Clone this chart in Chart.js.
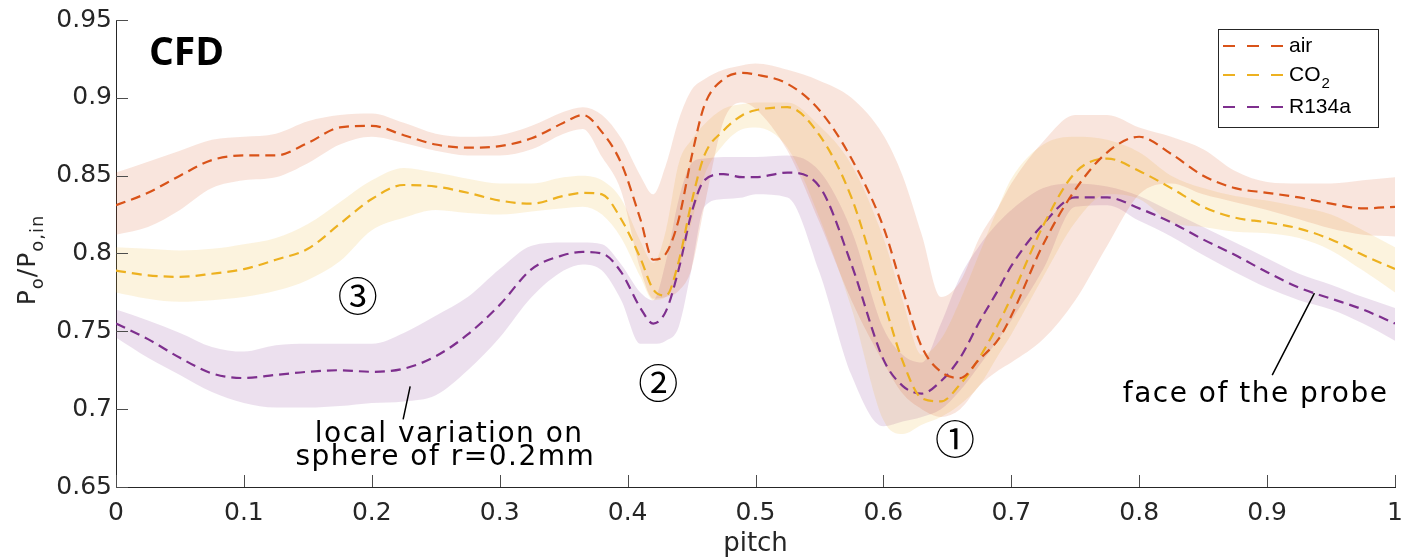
<!DOCTYPE html>
<html>
<head>
<meta charset="utf-8">
<script src="https://cdn.jsdelivr.net/npm/chart.js@4.4.1/dist/chart.umd.min.js"></script>
<style>
  html, body { margin: 0; padding: 0; background: #fff; }
  canvas { display: block; }
</style>
</head>
<body>
<canvas id="cfdChart" width="1401" height="560"></canvas>
<script>
// pitch positions shared by all series
const pitch = [0, 0.025, 0.05, 0.075, 0.1, 0.125, 0.15, 0.175, 0.2, 0.225, 0.25, 0.275, 0.3, 0.325, 0.35,
  0.365, 0.38, 0.395, 0.41, 0.42, 0.43, 0.44, 0.45, 0.46, 0.475, 0.49, 0.5,
  0.525, 0.55, 0.575, 0.6,
  0.615, 0.63, 0.645, 0.66, 0.675, 0.69, 0.7,
  0.725, 0.75, 0.775, 0.8, 0.825, 0.85, 0.875, 0.9, 0.925, 0.95, 0.975, 1];

// air
const airMean = [0.831, 0.839, 0.850, 0.860, 0.863, 0.863, 0.871, 0.881, 0.882, 0.876, 0.870, 0.868, 0.869, 0.874, 0.884,
  0.889, 0.878, 0.858, 0.822, 0.796, 0.800, 0.822, 0.862, 0.895, 0.912, 0.916, 0.915,
  0.909, 0.892, 0.861, 0.817,
  0.777, 0.740, 0.724, 0.720, 0.732, 0.745, 0.760,
  0.806, 0.841, 0.865, 0.875, 0.864, 0.850, 0.842, 0.839, 0.836, 0.832, 0.829, 0.830];
const airUpper = [0.852, 0.859, 0.866, 0.873, 0.875, 0.877, 0.885, 0.889, 0.890, 0.884, 0.877, 0.875, 0.876, 0.882, 0.891,
  0.894, 0.889, 0.874, 0.850, 0.838, 0.857, 0.886, 0.905, 0.912, 0.918, 0.921, 0.922,
  0.918, 0.911, 0.900, 0.876,
  0.850, 0.812, 0.772, 0.782, 0.810, 0.830, 0.845,
  0.872, 0.889, 0.889, 0.881, 0.875, 0.867, 0.853, 0.846, 0.845, 0.845, 0.847, 0.849];
const airLower = [0.812, 0.817, 0.828, 0.842, 0.847, 0.849, 0.858, 0.870, 0.875, 0.871, 0.866, 0.863, 0.863, 0.867, 0.877,
  0.880, 0.862, 0.840, 0.790, 0.771, 0.772, 0.776, 0.790, 0.830, 0.885, 0.897, 0.893,
  0.866, 0.820, 0.770, 0.730,
  0.710, 0.700, 0.695, 0.700, 0.715, 0.725, 0.730,
  0.745, 0.770, 0.805, 0.838, 0.845, 0.838, 0.833, 0.828, 0.822, 0.816, 0.812, 0.811];

// CO2
const co2Mean = [0.789, 0.786, 0.785, 0.787, 0.790, 0.796, 0.803, 0.819, 0.835, 0.844, 0.843, 0.839, 0.834, 0.832, 0.837,
  0.839, 0.838, 0.822, 0.797, 0.777, 0.773, 0.795, 0.833, 0.863, 0.879, 0.889, 0.892,
  0.894, 0.876, 0.836, 0.770,
  0.731, 0.707, 0.705, 0.716, 0.733, 0.755, 0.772,
  0.818, 0.852, 0.861, 0.853, 0.842, 0.830, 0.823, 0.820, 0.816, 0.809, 0.799, 0.790];
const co2Upper = [0.804, 0.803, 0.802, 0.803, 0.806, 0.810, 0.819, 0.833, 0.847, 0.855, 0.852, 0.848, 0.845, 0.845, 0.849,
  0.850, 0.847, 0.835, 0.808, 0.794, 0.815, 0.858, 0.873, 0.883, 0.893, 0.896, 0.897,
  0.897, 0.882, 0.857, 0.810,
  0.770, 0.735, 0.745, 0.770, 0.800, 0.830, 0.848,
  0.870, 0.875, 0.873, 0.865, 0.850, 0.842, 0.837, 0.834, 0.830, 0.825, 0.815, 0.804];
const co2Lower = [0.775, 0.771, 0.769, 0.770, 0.772, 0.776, 0.783, 0.795, 0.815, 0.823, 0.828, 0.826, 0.825, 0.827, 0.829,
  0.830, 0.825, 0.810, 0.785, 0.770, 0.772, 0.790, 0.820, 0.850, 0.870, 0.880, 0.881,
  0.868, 0.823, 0.765, 0.693,
  0.684, 0.690, 0.695, 0.703, 0.715, 0.735, 0.748,
  0.785, 0.820, 0.838, 0.835, 0.820, 0.817, 0.814, 0.813, 0.810, 0.802, 0.789, 0.775];

// R134a
const r134aMean = [0.755, 0.745, 0.733, 0.723, 0.720, 0.722, 0.724, 0.725, 0.724, 0.726, 0.734, 0.748, 0.767, 0.790, 0.799,
  0.801, 0.800, 0.788, 0.765, 0.755, 0.763, 0.790, 0.826, 0.847, 0.851, 0.849, 0.849,
  0.852, 0.843, 0.793, 0.732,
  0.715, 0.710, 0.718, 0.733, 0.756, 0.777, 0.792,
  0.819, 0.836, 0.836, 0.829, 0.820, 0.809, 0.799, 0.788, 0.778, 0.771, 0.764, 0.755];
const r134aUpper = [0.764, 0.757, 0.749, 0.740, 0.737, 0.741, 0.742, 0.742, 0.742, 0.749, 0.760, 0.772, 0.790, 0.805, 0.807,
  0.807, 0.806, 0.793, 0.775, 0.770, 0.795, 0.835, 0.858, 0.861, 0.862, 0.862, 0.862,
  0.863, 0.853, 0.815, 0.752,
  0.735, 0.730, 0.755, 0.785, 0.805, 0.820, 0.828,
  0.842, 0.845, 0.843, 0.837, 0.827, 0.817, 0.807, 0.797, 0.787, 0.780, 0.772, 0.765];
const r134aLower = [0.746, 0.733, 0.722, 0.711, 0.704, 0.701, 0.701, 0.702, 0.704, 0.705, 0.709, 0.725, 0.746, 0.772, 0.789,
  0.793, 0.789, 0.770, 0.742, 0.742, 0.744, 0.753, 0.790, 0.830, 0.835, 0.836, 0.838,
  0.836, 0.788, 0.722, 0.689,
  0.692, 0.695, 0.700, 0.712, 0.728, 0.745, 0.757,
  0.790, 0.830, 0.831, 0.821, 0.811, 0.799, 0.788, 0.778, 0.770, 0.764, 0.755, 0.744];

const seriesNames = ['air', 'CO2', 'R134a'];
const xTicks = [0, 0.1, 0.2, 0.3, 0.4, 0.5, 0.6, 0.7, 0.8, 0.9, 1];
const xTickLabels = ['0', '0.1', '0.2', '0.3', '0.4', '0.5', '0.6', '0.7', '0.8', '0.9', '1'];
const yTicks = [0.65, 0.7, 0.75, 0.8, 0.85, 0.9, 0.95];
const yTickLabels = ['0.65', '0.7', '0.75', '0.8', '0.85', '0.9', '0.95'];

// circled markers, placed in data coordinates
const markers = [
  { text: '\u2462', x: 0.189, y: 0.773 },
  { text: '\u2461', x: 0.424, y: 0.717 },
  { text: '\u2460', x: 0.656, y: 0.681 }
];

const lineColors = ['#D95319', '#EDB120', '#7E2F8E'];
const bandColors = ['rgba(217,83,25,0.15)', 'rgba(237,177,32,0.15)', 'rgba(126,47,142,0.15)'];
const textColor = '#262626';

function pts(arr) {
  return pitch.map((p, i) => ({ x: p, y: arr[i] }));
}

const bands = [[airUpper, airLower], [co2Upper, co2Lower], [r134aUpper, r134aLower]];
const means = [airMean, co2Mean, r134aMean];

const datasets = [];
bands.forEach((b, k) => {
  datasets.push({
    label: seriesNames[k] + ' upper',
    data: pts(b[0]),
    borderWidth: 0,
    pointRadius: 0,
    backgroundColor: bandColors[k],
    fill: '+1',
    cubicInterpolationMode: 'monotone'
  });
  datasets.push({
    label: seriesNames[k] + ' lower',
    data: pts(b[1]),
    borderWidth: 0,
    pointRadius: 0,
    fill: false,
    cubicInterpolationMode: 'monotone'
  });
});
means.forEach((m, k) => {
  datasets.push({
    label: seriesNames[k],
    data: pts(m),
    borderColor: lineColors[k],
    borderWidth: 2.2,
    borderDash: [10, 6],
    pointRadius: 0,
    fill: false,
    cubicInterpolationMode: 'monotone'
  });
});

function drawLegend(ctx) {
  const left = 1218, top = 29, w = 160, h = 98;
  const rows = [46, 75, 107];
  ctx.fillStyle = '#fff';
  ctx.fillRect(left, top, w, h);
  ctx.strokeStyle = textColor;
  ctx.lineWidth = 1;
  ctx.strokeRect(left + 0.5, top + 0.5, w, h);
  ctx.textAlign = 'left';
  ctx.textBaseline = 'middle';
  seriesNames.forEach((name, k) => {
    const yy = rows[k];
    ctx.strokeStyle = lineColors[k];
    ctx.lineWidth = 2.2;
    ctx.setLineDash([12, 12]);
    ctx.beginPath();
    ctx.moveTo(1223, yy);
    ctx.lineTo(1283, yy);
    ctx.stroke();
    ctx.setLineDash([]);
    ctx.fillStyle = '#000';
    ctx.font = '21px "Liberation Sans"';
    if (name === 'CO2') {
      ctx.fillText('CO', 1289, yy);
      const cw = ctx.measureText('CO').width;
      ctx.font = '15px "Liberation Sans"';
      ctx.fillText('2', 1289 + cw + 1, yy + 9);
    } else {
      ctx.fillText(name, 1289, yy);
    }
  });
}

function drawYLabel(ctx) {
  const parts = [['P', 25, 0], ['o', 18, 8], ['/', 25, 0], ['P', 25, 0], ['o,in', 18, 8]];
  ctx.save();
  ctx.translate(35, 260);
  ctx.rotate(-Math.PI / 2);
  ctx.fillStyle = textColor;
  ctx.textBaseline = 'alphabetic';
  ctx.textAlign = 'left';
  ctx.letterSpacing = '1px';
  let total = 0;
  parts.forEach(p => { ctx.font = p[1] + 'px "DejaVu Sans"'; total += ctx.measureText(p[0]).width; });
  let cx = -total / 2;
  parts.forEach(p => {
    ctx.font = p[1] + 'px "DejaVu Sans"';
    ctx.fillText(p[0], cx, p[2]);
    cx += ctx.measureText(p[0]).width;
  });
  ctx.restore();
}

const overlay = {
  id: 'overlay',
  afterDraw(chart) {
    const { ctx, chartArea } = chart;
    const xs = chart.scales.x, ys = chart.scales.y;
    ctx.save();

    // inward tick marks
    ctx.strokeStyle = '#4d4d4d';
    ctx.lineWidth = 1;
    ctx.beginPath();
    xTicks.forEach(v => {
      const px = Math.round(xs.getPixelForValue(v)) + 0.5;
      ctx.moveTo(px, chartArea.bottom);
      ctx.lineTo(px, chartArea.bottom - 12);
    });
    yTicks.forEach(v => {
      const py = Math.round(ys.getPixelForValue(v)) + 0.5;
      ctx.moveTo(chartArea.left, py);
      ctx.lineTo(chartArea.left + 12, py);
    });
    ctx.stroke();

    // CFD tag
    ctx.fillStyle = '#000';
    ctx.font = 'bold 39px "Open Sans"';
    ctx.textAlign = 'left';
    ctx.textBaseline = 'alphabetic';
    ctx.fillText('CFD', 149, 65);

    // circled numbers
    ctx.font = '40px "Noto Sans CJK JP"';
    ctx.textAlign = 'center';
    ctx.textBaseline = 'middle';
    markers.forEach(m => {
      ctx.fillText(m.text, xs.getPixelForValue(m.x), ys.getPixelForValue(m.y));
    });

    // notes with pointer lines
    ctx.strokeStyle = '#000';
    ctx.lineWidth = 1.5;
    ctx.beginPath();
    ctx.moveTo(xs.getPixelForValue(0.230), ys.getPixelForValue(0.7147));
    ctx.lineTo(xs.getPixelForValue(0.2245), ys.getPixelForValue(0.6935));
    ctx.moveTo(xs.getPixelForValue(0.937), ys.getPixelForValue(0.7746));
    ctx.lineTo(xs.getPixelForValue(0.904), ys.getPixelForValue(0.7219));
    ctx.stroke();

    ctx.font = '28px "DejaVu Sans"';
    ctx.letterSpacing = '1.5px';
    ctx.textBaseline = 'alphabetic';
    ctx.fillText('local variation on', xs.getPixelForValue(0.2605), ys.getPixelForValue(0.6787));
    ctx.fillText('sphere of r=0.2mm', xs.getPixelForValue(0.2575), ys.getPixelForValue(0.6639));
    ctx.fillText('face of the probe', xs.getPixelForValue(0.891), ys.getPixelForValue(0.7045));
    ctx.letterSpacing = '0px';

    drawLegend(ctx);
    drawYLabel(ctx);
    ctx.restore();
  }
};

Chart.defaults.font.family = '"DejaVu Sans"';
Chart.defaults.color = textColor;

new Chart(document.getElementById('cfdChart'), {
  type: 'line',
  data: { datasets: datasets },
  options: {
    responsive: false,
    animation: false,
    devicePixelRatio: 1,
    layout: { padding: { left: 0, right: 6, top: 20, bottom: 0 } },
    plugins: {
      legend: { display: false },
      tooltip: { enabled: false },
      filler: { drawTime: 'beforeDatasetsDraw' }
    },
    scales: {
      x: {
        type: 'linear',
        min: 0,
        max: 1,
        afterBuildTicks: s => { s.ticks = xTicks.map(v => ({ value: v })); },
        afterFit: s => { s.height = 73; s.paddingLeft = 0; s.paddingRight = 0; },
        grid: { display: false, drawTicks: false },
        border: { display: true, color: textColor, width: 1 },
        ticks: {
          autoSkip: false,
          maxRotation: 0,
          padding: 11,
          font: { size: 25 },
          color: textColor,
          callback: (v, i) => xTickLabels[i]
        },
        title: {
          display: true,
          text: 'pitch',
          font: { size: 26 },
          color: textColor,
          padding: { top: 0, bottom: 0 }
        }
      },
      y: {
        type: 'linear',
        min: 0.65,
        max: 0.95,
        afterBuildTicks: s => { s.ticks = yTicks.map(v => ({ value: v })); },
        afterFit: s => { s.width = 116; s.paddingTop = 0; s.paddingBottom = 0; },
        grid: { display: false, drawTicks: false },
        border: { display: true, color: textColor, width: 1 },
        ticks: {
          autoSkip: false,
          padding: 4,
          font: { size: 25 },
          color: textColor,
          callback: (v, i) => yTickLabels[i]
        }
      }
    }
  },
  plugins: [overlay]
});
</script>
</body>
</html>
